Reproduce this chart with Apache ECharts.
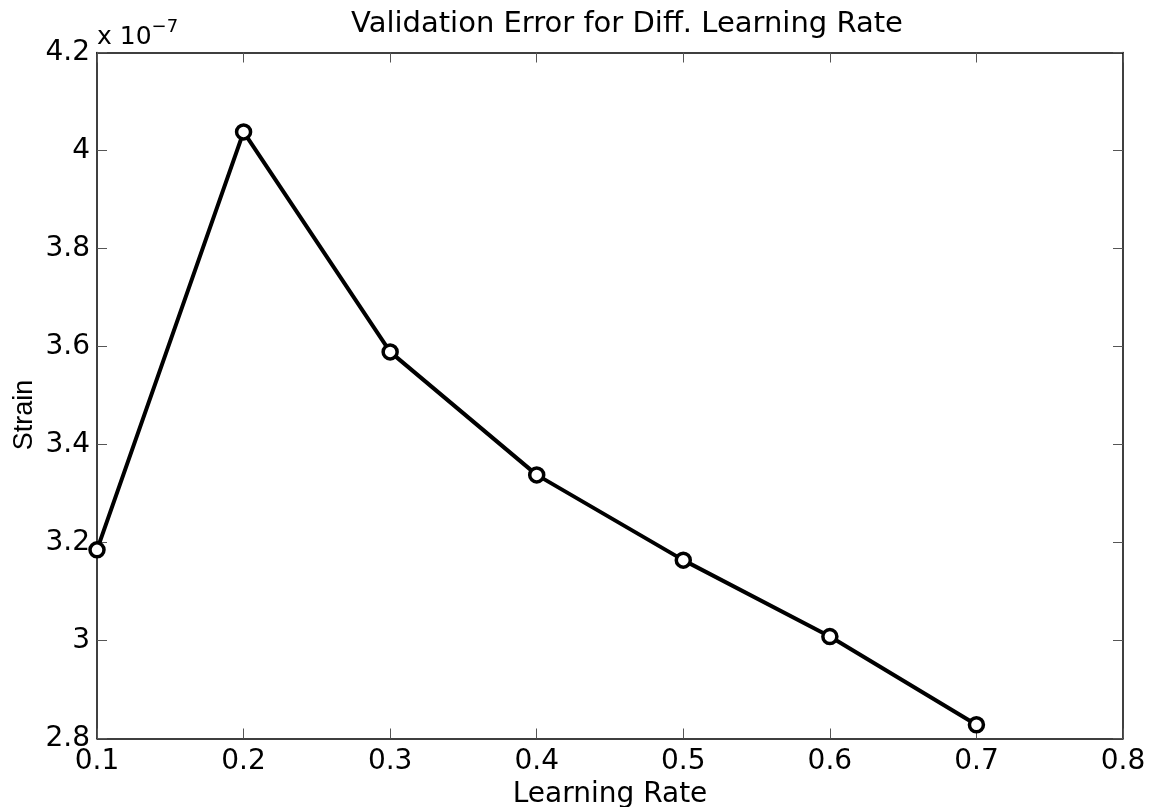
<!DOCTYPE html>
<html>
<head>
<meta charset="utf-8">
<script src="https://cdn.jsdelivr.net/npm/echarts@6/dist/echarts.min.js"></script>
<style>html,body{margin:0;padding:0;background:#fff;}#c{width:1149px;height:807px;}</style>
</head>
<body>
<div id="c"></div>
<script>
const learningRates = [0.1, 0.2, 0.3, 0.4, 0.5, 0.6, 0.7];
const strainE7 = [3.185, 4.038, 3.589, 3.338, 3.164, 3.008, 2.828];
const titleText = 'Validation Error for Diff. Learning Rate';
const xName = 'Learning Rate';
const yName = 'Strain';

const F = '"DejaVu Sans", sans-serif';
const FL = '"Liberation Sans", Arial, sans-serif';
const chart = echarts.init(document.getElementById('c'));
const fmt = v => String(+v.toFixed(1));
const axisCommon = {
  axisLine: {show: true, onZero: false, lineStyle: {color: '#000', width: 1.5}},
  axisTick: {show: true, inside: true, length: 10, lineStyle: {color: '#555', width: 1}},
  splitLine: {show: false}
};
chart.setOption({
  animation: false,
  backgroundColor: '#fff',
  title: {
    text: titleText, left: 622, top: 5, textAlign: 'center',
    textStyle: {fontFamily: F, fontSize: 29, fontWeight: 'normal', color: '#000'}
  },
  grid: {left: 97, right: 26, top: 52.5, bottom: 68.5, containLabel: false, outerBoundsMode: 'none'},
  xAxis: [
    Object.assign({
      type: 'value', min: 0.1, max: 0.8, interval: 0.1, position: 'bottom',
      name: xName, nameLocation: 'middle', nameGap: 36,
      nameTextStyle: {fontFamily: F, fontSize: 28, color: '#000'},
      axisLabel: {fontFamily: F, fontSize: 28, color: '#000', margin: 9, formatter: fmt}
    }, axisCommon),
    Object.assign({
      type: 'value', min: 0.1, max: 0.8, interval: 0.1, position: 'top',
      axisLabel: {show: false}
    }, axisCommon)
  ],
  yAxis: [
    Object.assign({
      type: 'value', min: 2.8, max: 4.2, interval: 0.2, position: 'left',
      axisLabel: {fontFamily: F, fontSize: 28, color: '#000', margin: 7, formatter: fmt}
    }, axisCommon),
    Object.assign({
      type: 'value', min: 2.8, max: 4.2, interval: 0.2, position: 'right',
      axisLabel: {show: false}
    }, axisCommon)
  ],
  graphic: [{
    type: 'text', left: 97, top: 18,
    style: {
      text: '{a|x 10}{b|−7}',
      rich: {
        a: {fontFamily: F, fontSize: 25, fill: '#000', verticalAlign: 'bottom'},
        b: {fontFamily: F, fontSize: 18, fill: '#000', verticalAlign: 'top', padding: [0, 0, 14, 0]}
      }
    }
  }, {
    type: 'text', x: 25, y: 415, rotation: Math.PI / 2,
    style: {
      text: yName, fontFamily: FL, fontSize: 27, fill: '#000',
      textAlign: 'center', textVerticalAlign: 'middle'
    }
  }],
  series: [{
    type: 'line',
    data: learningRates.map((x, i) => [x, strainE7[i]]),
    lineStyle: {color: '#000', width: 4},
    symbol: 'circle', symbolSize: 14, showSymbol: true,
    itemStyle: {color: '#fff', borderColor: '#000', borderWidth: 3.5},
    z: 5, clip: false
  }]
});
</script>
</body>
</html>
